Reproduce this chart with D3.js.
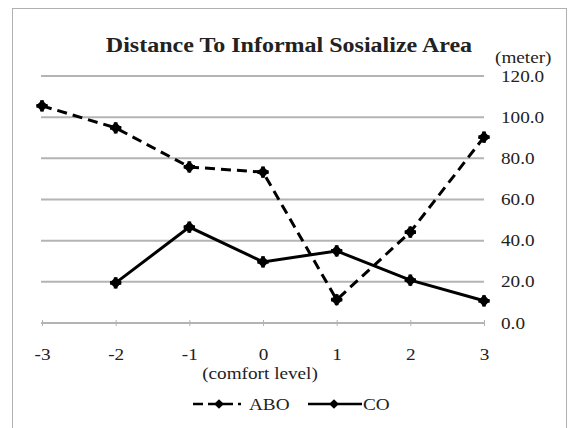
<!DOCTYPE html>
<html>
<head>
<meta charset="utf-8">
<script src="https://cdn.jsdelivr.net/npm/d3@7"></script>
<style>
	body { margin: 0; background: #fff; }
	text { font-family: "Liberation Serif", "Times New Roman", serif; fill: #222; }
</style>
</head>
<body>
<div id="graph"></div>
<script>
var levels = [-3, -2, -1, 0, 1, 2, 3];
var aboValues = [105.5, 94.8, 75.8, 73.3, 11.3, 44.2, 90.3];
var coValues = [null, 19.5, 46.6, 29.7, 35.0, 20.8, 10.8];
var yTicks = [0, 20, 40, 60, 80, 100, 120];
var seriesNames = ["ABO", "CO"];

var width = 569, height = 428;
var stretch = 1.2; // the original text is a bit wide

var vis = d3.select("#graph")
	.append("svg")
	.attr("width", width)
	.attr("height", height);

function widen(sel) {
	sel.each(function () {
		var w = this.getComputedTextLength();
		d3.select(this).attr("textLength", w * stretch).attr("lengthAdjust", "spacingAndGlyphs");
	});
}

// outer frame
vis.append("rect")
	.attr("x", 12.5).attr("y", 8.5)
	.attr("width", 554).attr("height", 430)
	.attr("style", "fill:none;stroke:#b0b0b0;stroke-width:1");

var x = d3.scaleLinear().domain([-3, 3]).range([42, 484]);
var y = d3.scaleLinear().domain([0, 120]).range([323, 76]);

// gridlines
vis.selectAll(".grid")
	.data(yTicks.filter(function (d) { return d > 0; }))
	.enter()
	.append("line")
	.attr("class", "grid")
	.attr("x1", x(-3) - 1)
	.attr("x2", x(3))
	.attr("y1", function (d) { return y(d); })
	.attr("y2", function (d) { return y(d); })
	.attr("style", "stroke:#b4b4b4;stroke-width:2");

// right axis labels
var yAxis = d3.axisRight(y).tickValues(yTicks).tickSize(0).tickPadding(17)
	.tickFormat(d3.format(".1f"));
vis.append("g")
	.attr("transform", "translate(" + x(3) + ",0)")
	.call(yAxis)
	.call(function (g) { g.select(".domain").remove(); })
	.selectAll("text")
	.attr("font-size", "16px")
	.attr("font-family", "Liberation Serif")
	.attr("fill", "#333")
	.call(widen);

vis.append("text")
	.attr("x", 495).attr("y", 63)
	.attr("font-size", "16px")
	.attr("fill", "#333")
	.text("(meter)")
	.call(widen);

// bottom axis
var xAxis = d3.axisBottom(x).tickValues(levels).tickSize(4).tickPadding(22)
	.tickFormat(d3.format("d"));
var xg = vis.append("g")
	.attr("transform", "translate(0," + y(0) + ")")
	.call(xAxis);
xg.select(".domain").attr("stroke", "#b4b4b4").attr("stroke-width", 2)
	.attr("d", "M" + (x(-3) - 1) + ",0H" + x(3));
xg.selectAll(".tick line").attr("stroke", "#b4b4b4").attr("y1", -3).attr("y2", 3);
xg.selectAll("text")
	.attr("font-size", "16px")
	.attr("font-family", "Liberation Serif")
	.attr("fill", "#333")
	.text(function (d) { return d < 0 ? "-" + Math.abs(d) : d; })
	.call(widen);

vis.append("text")
	.attr("x", 260).attr("y", 379)
	.attr("text-anchor", "middle")
	.attr("font-size", "16px")
	.attr("fill", "#333")
	.text("(comfort level)")
	.call(widen);

// title
vis.append("text")
	.attr("x", 289).attr("y", 52)
	.attr("text-anchor", "middle")
	.attr("font-size", "20px")
	.attr("font-weight", "bold")
	.attr("fill", "#111")
	.text("Distance To Informal Sosialize Area")
	.call(widen);

// lines
var line = d3.line()
	.defined(function (d) { return d[1] !== null; })
	.x(function (d) { return x(d[0]); })
	.y(function (d) { return y(d[1]); });

var series = [
	{ name: seriesNames[0], values: aboValues, dash: "10,6" },
	{ name: seriesNames[1], values: coValues, dash: null }
];

var diamond = d3.symbol().type(d3.symbolDiamond2).size(90);
var cross = d3.symbol().type(d3.symbolCross).size(70);

function drawMarker(g, cx, cy) {
	g.append("path").attr("d", diamond)
		.attr("transform", "translate(" + cx + "," + cy + ")").attr("fill", "#000");
	g.append("path").attr("d", cross)
		.attr("transform", "translate(" + cx + "," + cy + ")").attr("fill", "#000");
}

series.forEach(function (s) {
	var pts = levels.map(function (l, i) { return [l, s.values[i]]; });
	vis.append("path")
		.datum(pts)
		.attr("d", line)
		.attr("fill", "none")
		.attr("stroke", "#000")
		.attr("stroke-width", 3)
		.attr("stroke-dasharray", s.dash);
	var mg = vis.append("g");
	pts.filter(function (d) { return d[1] !== null; }).forEach(function (d) {
		drawMarker(mg, x(d[0]), y(d[1]));
	});
});

// legend
var legend = [
	{ name: seriesNames[0], x1: 193, x2: 244, dash: "10,5,25,5,3", tx: 249 },
	{ name: seriesNames[1], x1: 308, x2: 362, dash: null, tx: 363 }
];
legend.forEach(function (l) {
	vis.append("line")
		.attr("x1", l.x1).attr("x2", l.x2)
		.attr("y1", 404).attr("y2", 404)
		.attr("stroke", "#000")
		.attr("stroke-width", 2.5)
		.attr("stroke-dasharray", l.dash);
	var lg = vis.append("g");
	lg.append("path")
		.attr("d", d3.symbol().type(d3.symbolDiamond2).size(60))
		.attr("transform", "translate(" + (l.name === "ABO" ? 219 : 334) + ",404)")
		.attr("fill", "#000");
	vis.append("text")
		.attr("x", l.tx).attr("y", 410)
		.attr("font-size", "16px")
		.attr("fill", "#222")
		.text(l.name)
		.call(widen);
});
</script>
</body>
</html>
